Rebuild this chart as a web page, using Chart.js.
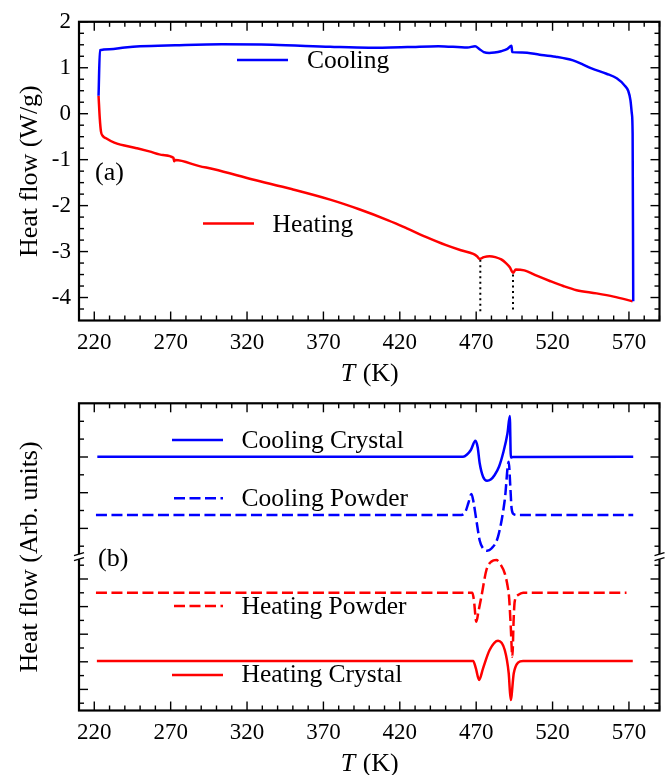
<!DOCTYPE html>
<html><head><meta charset="utf-8">
<script src="https://cdn.jsdelivr.net/npm/chart.js@4/dist/chart.umd.min.js"></script>
<style>
html,body{margin:0;padding:0;background:#fff;overflow:hidden;width:668px;height:775px}
canvas{position:absolute;left:0}
#c1{top:0}
#c2{top:390px}
</style>
</head><body>
<canvas id="c1" width="668" height="390"></canvas>
<canvas id="c2" width="668" height="385"></canvas>
<script>
// ---------- DATA ----------
// x tick labels (both panels)
const xTicks = [220, 270, 320, 370, 420, 470, 520, 570];
// panel (a) y tick labels
const yTicksA = [-4, -3, -2, -1, 0, 1, 2];

// Panel (a): DSC, Heat flow (W/g)
const coolT = [222.8, 223.7, 230, 240, 250, 273, 303.5, 336.4, 374.4, 399.7, 425, 445.3, 464.3, 469.3, 472, 475, 478.5, 482, 486.3, 490.5, 493.1, 493.6, 500, 511.6, 522, 533.4, 540, 545.5, 555.3, 562, 567.3, 569.5, 571.0, 571.9, 572.4, 572.8];
const coolV = [0.39, 1.38, 1.40, 1.44, 1.467, 1.49, 1.51, 1.50, 1.456, 1.435, 1.45, 1.47, 1.44, 1.47, 1.41, 1.34, 1.32, 1.33, 1.36, 1.41, 1.48, 1.34, 1.33, 1.285, 1.24, 1.16, 1.07, 0.985, 0.87, 0.77, 0.61, 0.50, 0.29, 0.0, -0.43, -4.08];

const heatT = [222.8, 223.6, 224.4, 225.5, 227.7, 233.1, 247.7, 256, 265, 271.8, 272.3, 273, 288.8, 298.4, 323.7, 349.1, 374.4, 393.4, 412.4, 425, 437, 450.3, 460, 468.1, 470.5, 472.3, 475, 478.8, 482.5, 486.4, 489.5, 492, 494.2, 495.9, 501.5, 510, 518.2, 527, 535.7, 548.8, 560, 572.4];
const heatV = [0.39, -0.1, -0.39, -0.48, -0.535, -0.63, -0.75, -0.82, -0.9, -0.96, -1.035, -1.01, -1.14, -1.21, -1.43, -1.64, -1.87, -2.08, -2.32, -2.5, -2.68, -2.86, -2.97, -3.05, -3.1, -3.16, -3.12, -3.10, -3.12, -3.17, -3.25, -3.34, -3.46, -3.39, -3.41, -3.53, -3.64, -3.75, -3.84, -3.91, -3.98, -4.08];

// transition markers (dotted lines)
const markT = [472.7, 494.1];
const markTop = [-3.18, -3.50];
const markBottom = -4.32;

// Panel (b): normalized curves (arbitrary units, vertically offset)
const ccT = [222, 461.4, 464, 466.5, 469.5, 471, 472.3, 474.5, 477.1, 479.5, 482.1, 485, 487.6, 490.5, 492, 492.7, 494, 572.8];
const ccV = [25.38, 25.38, 25.6, 26.05, 26.98, 26.3, 24.72, 23.38, 22.98, 23.1, 23.55, 24.4, 25.72, 27.72, 29.45, 25.3, 25.35, 25.38];

const cpT = [221.1, 460.3, 463, 465, 466.9, 468.3, 470.1, 472.3, 474.5, 477.1, 480, 484.3, 488.7, 491.3, 492.3, 493.2, 494.5, 497, 572.8];
const cpV = [19.55, 19.55, 19.9, 20.8, 21.65, 20.8, 19.05, 17.0, 16.2, 15.98, 16.2, 17.38, 21.05, 24.88, 22.5, 20.2, 19.65, 19.55, 19.55];

const hpT = [221.1, 467.5, 468.5, 470.1, 471.5, 473.4, 476.7, 480, 483.2, 486, 488.7, 490.5, 491.5, 492.6, 493.7, 494.5, 495.2, 497.4, 500.7, 568.4];
const hpV = [11.78, 11.78, 11.05, 8.88, 9.9, 11.38, 14.05, 14.9, 15.05, 14.6, 13.72, 12.5, 11.38, 8.5, 5.38, 9.0, 10.88, 11.55, 11.78, 11.78];

const hcT = [221.7, 468, 469.8, 471.9, 474.5, 478.8, 484.3, 488.7, 491.3, 492.6, 494.6, 497.4, 500.7, 572.5];
const hcV = [4.95, 4.95, 4.22, 3.05, 4.22, 6.05, 6.98, 6.05, 3.72, 1.05, 3.72, 4.78, 4.95, 4.95];

// panel (b) y tick marks (no labels) and axis break position
const yMajorB = [25.35, 21.78, 18.21, 13.15, 10.39, 7.63, 4.87, 2.11];
const yMinorB = [28.92, 27.14, 23.57, 20.0, 16.43, 14.53, 11.77, 9.01, 6.25, 3.49, 0.73];
const breakB = 15.38;

// ---------- helpers ----------
const FONT = '"Liberation Serif", "Times New Roman", serif';
const pts = (xs, ys) => xs.map((v, i) => ({x: v, y: ys[i]}));
const BLUE = '#0000ff', RED = '#ff0000';
const xMinor = [];
for (let v = 210; v <= 590; v += 10) if (!xTicks.includes(v)) xMinor.push(v);
const yMinorA = [];
for (let v = -4.25; v < 2; v += 0.25) if (Math.abs(v - Math.round(v)) > 1e-6) yMinorA.push(v);

const overlay = {
  id: 'overlay',
  afterDatasetsDraw(chart, args, o) {
    const {ctx, chartArea: a, scales: {x, y}} = chart;
    ctx.save();
    const seg = (x1, y1, x2, y2) => { ctx.beginPath(); ctx.moveTo(x1, y1); ctx.lineTo(x2, y2); ctx.stroke(); };
    ctx.strokeStyle = '#000'; ctx.lineWidth = 1.4; ctx.setLineDash([]);
    const MJ = 9, MN = 5;
    xTicks.forEach(v => { const p = x.getPixelForValue(v); seg(p, a.bottom, p, a.bottom - MJ); seg(p, a.top, p, a.top + MJ); });
    xMinor.forEach(v => { const p = x.getPixelForValue(v); seg(p, a.bottom, p, a.bottom - MN); seg(p, a.top, p, a.top + MN); });
    o.yMajor.forEach(v => { const p = y.getPixelForValue(v); seg(a.left, p, a.left + MJ, p); seg(a.right, p, a.right - MJ, p); });
    o.yMinor.forEach(v => { const p = y.getPixelForValue(v); seg(a.left, p, a.left + MN, p); seg(a.right, p, a.right - MN, p); });
    ctx.lineWidth = 2.2;
    ctx.strokeRect(a.left, a.top, a.right - a.left, a.bottom - a.top);
    if (o.breakAt != null) {
      const yc = y.getPixelForValue(o.breakAt);
      [a.left, a.right].forEach(ax => {
        ctx.fillStyle = '#fff';
        ctx.fillRect(ax - 6, yc - 2.5, 12, 5);
        ctx.strokeStyle = '#000'; ctx.lineWidth = 1.3;
        seg(ax - 5, yc - 1, ax + 5, yc - 4);
        seg(ax - 5, yc + 4, ax + 5, yc + 1);
      });
    }
    // legend
    ctx.textBaseline = 'middle'; ctx.textAlign = 'left';
    ctx.font = '25.5px ' + FONT;
    o.legend.forEach(it => {
      const ds = chart.data.datasets[it.ds];
      ctx.strokeStyle = ds.borderColor; ctx.lineWidth = ds.borderWidth;
      ctx.setLineDash(ds.borderDash || []);
      seg(it.x1, it.y, it.x2, it.y);
      ctx.setLineDash([]);
      ctx.fillStyle = '#000';
      ctx.fillText(ds.label, it.tx, it.ty);
    });
    ctx.fillStyle = '#000';
    ctx.font = '26px ' + FONT;
    ctx.fillText(o.panel.text, o.panel.x, o.panel.y);
    // x axis title: italic T + " (K)"
    const cx = (a.left + a.right) / 2, ty = a.bottom + 53.5;
    ctx.font = 'italic 26px ' + FONT; const w1 = ctx.measureText('T').width;
    ctx.font = '26px ' + FONT; const w2 = ctx.measureText(' (K)').width;
    const sx = cx - (w1 + w2) / 2;
    ctx.font = 'italic 26px ' + FONT; ctx.fillText('T', sx, ty);
    ctx.font = '26px ' + FONT; ctx.fillText(' (K)', sx + w1 + 1, ty);
    ctx.restore();
  }
};

function xScale(h) {
  return {
    type: 'linear', min: 210, max: 590, position: 'bottom',
    afterBuildTicks: s => { s.ticks = xTicks.map(v => ({value: v})); },
    afterFit: s => { s.height = h; },
    grid: {display: false, drawTicks: false},
    border: {display: false},
    ticks: {padding: 9, color: '#000', font: {family: FONT, size: 23}, maxRotation: 0, autoSkip: false}
  };
}

const common = {
  responsive: false, animation: false, devicePixelRatio: 1,
  plugins: {legend: {display: false}, tooltip: {enabled: false}, title: {display: false}},
  elements: {point: {radius: 0}, line: {cubicInterpolationMode: 'monotone', borderCapStyle: 'butt'}}
};

// ---------- Panel (a) ----------
new Chart(document.getElementById('c1'), {
  type: 'line',
  data: {
    datasets: [
      {label: 'Cooling', data: pts(coolT, coolV), borderColor: BLUE, borderWidth: 2.5},
      {label: 'Heating', data: pts(heatT, heatV), borderColor: RED, borderWidth: 2.5},
      {label: 'm1', data: [{x: markT[0], y: markTop[0]}, {x: markT[0], y: markBottom}], borderColor: '#000', borderWidth: 2, borderDash: [2, 3.5], cubicInterpolationMode: 'default', tension: 0},
      {label: 'm2', data: [{x: markT[1], y: markTop[1]}, {x: markT[1], y: markBottom}], borderColor: '#000', borderWidth: 2, borderDash: [2, 3.5], cubicInterpolationMode: 'default', tension: 0}
    ]
  },
  options: Object.assign({}, common, {
    layout: {padding: {top: 16.6, right: 8.5, left: 0, bottom: 0}},
    scales: {
      x: xScale(69.5),
      y: {
        type: 'linear', min: -4.5, max: 2,
        afterBuildTicks: s => { s.ticks = yTicksA.map(v => ({value: v})); },
        afterFit: s => { s.width = 79; },
        grid: {display: false, drawTicks: false}, border: {display: false},
        ticks: {padding: 8, color: '#000', font: {family: FONT, size: 23}},
        title: {display: true, text: 'Heat flow (W/g)', color: '#000', font: {family: FONT, size: 26}, padding: {top: 15, bottom: 0}}
      }
    },
    plugins: Object.assign({}, common.plugins, {
      overlay: {
        yMajor: yTicksA, yMinor: yMinorA, breakAt: null,
        legend: [
          {ds: 0, x1: 237, x2: 288, y: 60, tx: 307, ty: 61.5},
          {ds: 1, x1: 203, x2: 254, y: 223.5, tx: 272.5, ty: 225}
        ],
        panel: {text: '(a)', x: 95, y: 173}
      }
    })
  }),
  plugins: [overlay]
});

// ---------- Panel (b) ----------
new Chart(document.getElementById('c2'), {
  type: 'line',
  data: {
    datasets: [
      {label: 'Cooling Crystal', data: pts(ccT, ccV), borderColor: BLUE, borderWidth: 2.5},
      {label: 'Cooling Powder', data: pts(cpT, cpV), borderColor: BLUE, borderWidth: 2.5, borderDash: [11, 4.5]},
      {label: 'Heating Powder', data: pts(hpT, hpV), borderColor: RED, borderWidth: 2.5, borderDash: [11, 4.5]},
      {label: 'Heating Crystal', data: pts(hcT, hcV), borderColor: RED, borderWidth: 2.5}
    ]
  },
  options: Object.assign({}, common, {
    layout: {padding: {top: 13.3, right: 8.5, left: 0, bottom: 0}},
    scales: {
      x: xScale(64.5),
      y: {
        type: 'linear', min: 0, max: 30.72,
        afterFit: s => { s.width = 79; },
        grid: {display: false, drawTicks: false}, border: {display: false},
        ticks: {display: false},
        title: {display: true, text: 'Heat flow (Arb. units)', color: '#000', font: {family: FONT, size: 26}, padding: {top: 15, bottom: 0}}
      }
    },
    plugins: Object.assign({}, common.plugins, {
      overlay: {
        yMajor: yMajorB, yMinor: yMinorB, breakAt: breakB,
        legend: [
          {ds: 0, x1: 172, x2: 223, y: 50, tx: 241.5, ty: 51},
          {ds: 1, x1: 174, x2: 223, y: 108.3, tx: 241.5, ty: 109},
          {ds: 2, x1: 174, x2: 223, y: 216, tx: 241.5, ty: 217},
          {ds: 3, x1: 172, x2: 223, y: 285, tx: 241.5, ty: 285.5}
        ],
        panel: {text: '(b)', x: 98, y: 169}
      }
    })
  }),
  plugins: [overlay]
});
</script>
</body></html>
